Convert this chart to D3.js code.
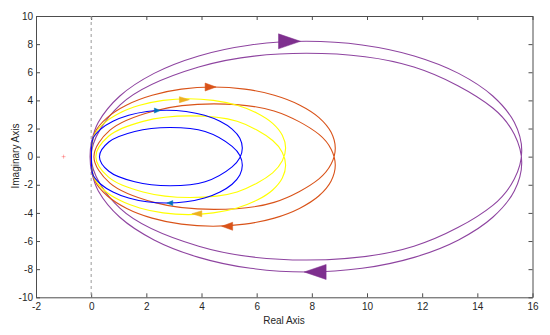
<!DOCTYPE html>
<html>
<head>
<meta charset="utf-8">
<script src="https://cdn.jsdelivr.net/npm/d3@7"></script>
<style>
body { margin: 0; background: #fff; }
svg { font-family: "Liberation Sans", Arial, sans-serif; }
.axis path, .axis line { stroke: #4d4d4d; stroke-width: 1; }
.axis text { fill: #262626; font-size: 10px; }
</style>
</head>
<body>
<div class="container"></div>
<script>
var width = 550;
var height = 335;

// axis ticks
var xTickValues = [-2, 0, 2, 4, 6, 8, 10, 12, 14, 16];
var yTickValues = [-10, -8, -6, -4, -2, 0, 2, 4, 6, 8, 10];

// nyquist loops (real, imag)
var blueLoop = [
  [0.07,1.31],[0.35,1.96],[0.79,2.51],[1.36,2.94],[2.02,3.21],[2.73,3.30],[3.44,3.21],[4.11,2.94],[4.67,2.51],[5.11,1.96],[5.39,1.31],[5.48,0.62],
  [5.39,-0.08],[5.11,-0.73],
  [4.13,-1.79],[2.86,-2.07],[1.58,-1.79],[0.64,-1.04],[0.30,0],[0.64,1.04],[1.58,1.79],[2.86,2.07],[4.13,1.79],
  [5.11,0.73],[5.39,0.08],
  [5.48,-0.62],[5.39,-1.31],[5.11,-1.96],[4.67,-2.51],[4.11,-2.94],[3.44,-3.21],[2.73,-3.30],[2.02,-3.21],[1.36,-2.94],[0.79,-2.51],[0.35,-1.96],[0.07,-1.31],
  [0.01,0]
];
var yellowLoop = [
  [0.11,1.52],[0.46,2.37],[1.02,3.09],[1.76,3.65],[2.61,4.00],[3.52,4.12],[4.43,4.00],[5.29,3.65],[6.02,3.09],[6.58,2.37],[6.93,1.52],[7.05,0.61],
  [6.93,-0.30],[6.58,-1.15],
  [5.29,-2.51],[3.59,-2.90],[1.88,-2.51],[0.63,-1.45],[0.17,0],[0.63,1.45],[1.88,2.51],[3.59,2.90],[5.29,2.51],
  [6.58,1.15],[6.93,0.30],
  [7.05,-0.61],[6.93,-1.52],[6.58,-2.37],[6.02,-3.09],[5.29,-3.65],[4.43,-4.00],[3.52,-4.12],[2.61,-4.00],[1.76,-3.65],[1.02,-3.09],[0.46,-2.37],[0.11,-1.52],
  [0.01,0]
];
var orangeLoop = [
  [0.14,1.73],[0.58,2.78],[1.29,3.68],[2.21,4.37],[3.27,4.80],[4.42,4.95],[5.57,4.80],[6.64,4.37],[7.55,3.68],[8.26,2.78],[8.70,1.73],[8.85,0.60],
  [8.70,-0.53],[8.26,-1.58],
  [6.63,-3.25],[4.45,-3.75],[2.28,-3.25],[0.68,-1.88],[0.10,0],[0.68,1.88],[2.28,3.25],[4.45,3.75],[6.63,3.25],
  [8.26,1.58],[8.70,0.53],
  [8.85,-0.60],[8.70,-1.73],[8.26,-2.78],[7.55,-3.68],[6.64,-4.37],[5.57,-4.80],[4.42,-4.95],[3.27,-4.80],[2.21,-4.37],[1.29,-3.68],[0.58,-2.78],[0.14,-1.73],
  [0.00,0]
];
var purpleLoop = [
  [0.26,2.44],[1.04,4.31],[2.28,5.92],[3.90,7.16],[5.78,7.94],[7.80,8.20],[9.82,7.94],[11.71,7.16],[13.32,5.92],[14.56,4.31],[15.34,2.44],[15.61,0.43],
  [15.34,-1.59],[14.56,-3.46],
  [11.70,-6.37],[7.80,-7.35],[3.90,-6.37],[1.05,-3.68],[0.00,0],[1.05,3.68],[3.90,6.37],[7.80,7.35],[11.70,6.37],
  [14.56,3.46],[15.34,1.59],
  [15.61,-0.43],[15.34,-2.44],[14.56,-4.31],[13.32,-5.92],[11.71,-7.16],[9.82,-7.94],[7.80,-8.20],[5.78,-7.94],[3.90,-7.16],[2.28,-5.92],[1.04,-4.31],[0.26,-2.44],
  [0.02,-1.10],[-0.04,0],[0.02,1.10]
];

// direction arrows: [real, imag, dir] dir 1 = pointing right, -1 = left
var blueArrows = [[2.40, 3.28, 1], [2.85, -3.30, -1]];
var yellowArrows = [[3.38, 4.05, 1], [3.83, -4.06, -1]];
var orangeArrows = [[4.33, 4.95, 1], [4.93, -4.95, -1]];
var purpleArrows = [[7.19, 8.20, 1], [8.12, -8.20, -1]];

var criticalPoint = [-1, 0];

var series = [
  { loop: purpleLoop, arrows: purpleArrows, line: '#8e44a0', fill: '#7e2f8e', len: 22, half: 7.5 },
  { loop: orangeLoop, arrows: orangeArrows, line: '#d95319', fill: '#d95319', len: 11, half: 4 },
  { loop: yellowLoop, arrows: yellowArrows, line: '#ffff00', fill: '#edb120', len: 10, half: 3 },
  { loop: blueLoop, arrows: blueArrows, line: '#0000ff', fill: '#0072bd', len: 6, half: 2.5 }
];

var translate = function(x, y) {
  return 'translate(' + x + ',' + y + ')';
};

var plain = function(d) { return String(d); };

var draw = function() {
  var svg = d3.select('.container').append('svg')
    .attr('width', width)
    .attr('height', height);

  var x = d3.scaleLinear().domain([-2, 16]).range([36, 532.5]);
  var y = d3.scaleLinear().domain([-10, 10]).range([297.3, 16]);

  // box with inward ticks
  svg.append('g').classed('axis', true)
    .attr('transform', translate(0, y(-10)))
    .call(d3.axisBottom(x).tickValues(xTickValues).tickFormat(plain).tickSize(-4).tickSizeOuter(0).tickPadding(6));
  svg.append('g').classed('axis', true)
    .attr('transform', translate(x(-2), 0))
    .call(d3.axisLeft(y).tickValues(yTickValues).tickFormat(plain).tickSize(-4).tickSizeOuter(0).tickPadding(3));
  svg.append('g').classed('axis', true)
    .attr('transform', translate(0, y(10)))
    .call(d3.axisTop(x).tickValues(xTickValues).tickSize(-4).tickSizeOuter(0).tickFormat(''));
  svg.append('g').classed('axis', true)
    .attr('transform', translate(x(16), 0))
    .call(d3.axisRight(y).tickValues(yTickValues).tickSize(-4).tickSizeOuter(0).tickFormat(''));

  // imaginary axis dashed line
  svg.append('line')
    .attr('x1', x(0)).attr('x2', x(0))
    .attr('y1', y(10)).attr('y2', y(-10))
    .attr('stroke', '#9a9a9a')
    .attr('stroke-width', 1)
    .attr('stroke-dasharray', '3,3');

  // -1 point
  var cx = x(criticalPoint[0]), cy = y(criticalPoint[1]);
  svg.append('path')
    .attr('d', 'M' + (cx - 2) + ',' + cy + 'H' + (cx + 2) + 'M' + cx + ',' + (cy - 2) + 'V' + (cy + 2))
    .attr('stroke', '#ff0000')
    .attr('stroke-opacity', 0.3)
    .attr('stroke-width', 1);

  var line = d3.line()
    .x(function(d) { return x(d[0]); })
    .y(function(d) { return y(d[1]); })
    .curve(d3.curveCatmullRomClosed.alpha(0.5));

  var plot = svg.append('g');

  series.forEach(function(s) {
    plot.append('path')
      .datum(s.loop)
      .attr('d', line)
      .attr('fill', 'none')
      .attr('stroke', s.line)
      .attr('stroke-width', 1.1);
  });

  series.forEach(function(s) {
    plot.selectAll(null)
      .data(s.arrows)
      .enter()
      .append('path')
      .attr('d', function(d) {
        var px = x(d[0]), py = y(d[1]), k = d[2];
        return 'M' + (px + k * s.len / 2) + ',' + py +
          'L' + (px - k * s.len / 2) + ',' + (py - s.half) +
          'L' + (px - k * s.len / 2) + ',' + (py + s.half) + 'Z';
      })
      .attr('fill', s.fill)
      .attr('stroke', s.fill)
      .attr('stroke-width', 0.5);
  });

  svg.append('text')
    .attr('x', 284)
    .attr('y', 324)
    .attr('text-anchor', 'middle')
    .attr('font-size', '10px')
    .attr('fill', '#262626')
    .text('Real Axis');

  svg.append('text')
    .attr('transform', translate(18.5, 156) + ' rotate(-90)')
    .attr('text-anchor', 'middle')
    .attr('font-size', '10px')
    .attr('fill', '#262626')
    .text('Imaginary Axis');
};

window.onload = draw;
</script>
</body>
</html>
